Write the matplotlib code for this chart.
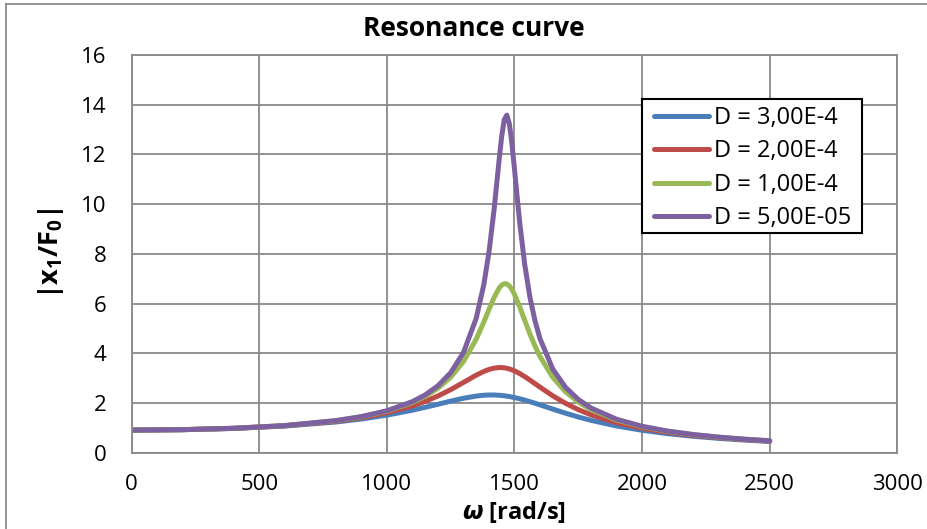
import matplotlib
matplotlib.use("Agg")
import matplotlib.pyplot as plt
from matplotlib.lines import Line2D
from matplotlib.patches import Rectangle

# ---- data ----
omega = [0, 200, 400, 600, 800, 900, 1000, 1100, 1150, 1200, 1250, 1300, 1350,
         1380, 1400, 1420, 1440, 1450, 1460, 1470, 1480, 1490, 1500, 1520, 1540,
         1560, 1580, 1600, 1650, 1700, 1750, 1800, 1900, 2000, 2100, 2200, 2300,
         2400, 2500]

d_3e4 = [0.91, 0.926, 0.976, 1.072, 1.235, 1.355, 1.511, 1.710, 1.826, 1.949,
         2.075, 2.190, 2.279, 2.311, 2.321, 2.321, 2.310, 2.301, 2.289, 2.275,
         2.258, 2.239, 2.218, 2.170, 2.115, 2.055, 1.991, 1.924, 1.754, 1.589,
         1.437, 1.301, 1.075, 0.901, 0.766, 0.661, 0.577, 0.509, 0.453]

d_2e4 = [0.91, 0.927, 0.980, 1.083, 1.266, 1.408, 1.604, 1.882, 2.064, 2.281,
         2.537, 2.826, 3.119, 3.271, 3.350, 3.403, 3.426, 3.425, 3.414, 3.396,
         3.368, 3.333, 3.290, 3.186, 3.062, 2.925, 2.781, 2.636, 2.289, 1.986,
         1.733, 1.523, 1.206, 0.983, 0.821, 0.698, 0.604, 0.528, 0.468]

d_1e4 = [0.91, 0.927, 0.982, 1.090, 1.286, 1.443, 1.670, 2.016, 2.264, 2.592,
         3.039, 3.669, 4.569, 5.261, 5.764, 6.246, 6.626, 6.745, 6.802, 6.791,
         6.711, 6.568, 6.372, 5.876, 5.324, 4.786, 4.297, 3.867, 3.031, 2.451,
         2.037, 1.731, 1.314, 1.046, 0.860, 0.725, 0.622, 0.542, 0.477]

d_5e5 = [0.91, 0.927, 0.983, 1.091, 1.291, 1.453, 1.688, 2.055, 2.324, 2.692,
         3.219, 4.030, 5.408, 6.774, 8.070, 9.779, 11.807, 12.745, 13.400, 13.582,
         13.222, 12.427, 11.398, 9.294, 7.575, 6.282, 5.317, 4.583, 3.364, 2.629,
         2.142, 1.798, 1.346, 1.063, 0.871, 0.732, 0.627, 0.545, 0.480]

labels = ["D = 3,00E-4", "D = 2,00E-4", "D = 1,00E-4", "D = 5,00E-05"]
colors = ["#4A7EBB", "#BE4B48", "#98B954", "#7D60A0"]

xticks = [0, 500, 1000, 1500, 2000, 2500, 3000]
yticks = [0, 2, 4, 6, 8, 10, 12, 14, 16]

title = "Resonance curve"
xlabel = r"$\omega$ [rad/s]"
ylabel = r"$\mathdefault{|x_1/F_0|}$"

# ---- style ----
plt.rcParams["font.family"] = ["Open Sans", "DejaVu Sans"]
plt.rcParams["mathtext.fontset"] = "custom"
plt.rcParams["mathtext.it"] = "DejaVu Sans:italic:bold"

W, H = 928, 529
fig = plt.figure(figsize=(W / 100, H / 100), dpi=100)
fig.patch.set_facecolor("white")

L, R, T, B = 131.7, 897.3, 55.0, 452.7
ax = fig.add_axes([L / W, 1 - B / H, (R - L) / W, (B - T) / H])

grid_c = "#898989"
series = [d_3e4, d_2e4, d_1e4, d_5e5]
handles = []
for s, c, lab in zip(series, colors, labels):
    h, = ax.plot(omega, s, color=c, lw=3.6, solid_capstyle="round",
                 solid_joinstyle="round", label=lab)
    handles.append(h)

ax.set_xlim(0, 3000)
ax.set_ylim(0, 16)
ax.set_xticks(xticks)
ax.set_yticks(yticks)
ax.grid(True, color=grid_c, lw=1.3)
ax.set_axisbelow(True)
for sp in ax.spines.values():
    sp.set_color(grid_c)
    sp.set_linewidth(1.3)
ax.tick_params(length=0, labelsize=16, colors="black")
ax.tick_params(axis="y", pad=18)
ax.tick_params(axis="x", pad=15)

# legend box (white, black border) at the reference position
x0, y0, x1, y1 = 641.7, 99.3, 862.3, 232.7
fig.patches.append(Rectangle((x0 / W, 1 - y1 / H), (x1 - x0) / W, (y1 - y0) / H,
                             transform=fig.transFigure, facecolor="white",
                             edgecolor="black", lw=1.5, zorder=3))
leg = fig.legend(handles, labels, loc="upper left",
                 bbox_to_anchor=(654 / W, 1 - 106 / H),
                 bbox_transform=fig.transFigure, frameon=False,
                 fontsize=17, handlelength=2.35, handletextpad=0.17,
                 labelspacing=0.4, borderpad=0, borderaxespad=0)
leg.set_zorder(5)

fig.text(474 / W, 1 - 28 / H, title, ha="center", va="center",
         fontsize=19, fontweight="bold")
fig.text(514 / W, 1 - 512 / H, xlabel, ha="center", va="center",
         fontsize=17, fontweight="bold")
fig.text(51.5 / W, 1 - 253 / H, ylabel, ha="center", va="center",
         fontsize=19.5, rotation=90, fontweight="bold")

# outer chart frame (left and top edges visible)
fig.add_artist(Line2D([5.7 / W, 5.7 / W], [0, 1 - 4 / H], color="#8a8a8a",
                      lw=1.3, transform=fig.transFigure))
fig.add_artist(Line2D([5.7 / W, 1], [1 - 4 / H, 1 - 4 / H], color="#8a8a8a",
                      lw=1.3, transform=fig.transFigure))

fig.savefig("out.png", dpi=100)
